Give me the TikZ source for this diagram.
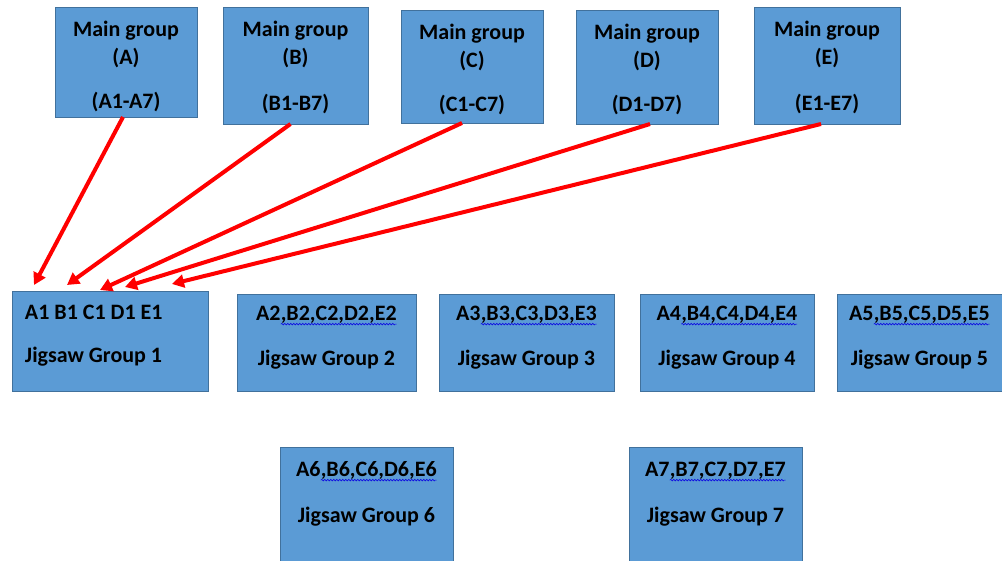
\documentclass[tikz,border=0pt]{standalone}
\usepackage{fontspec}
\setmainfont{Carlito}
\usetikzlibrary{arrows.meta,decorations.pathmorphing}
\definecolor{boxfill}{HTML}{5B9BD5}
\definecolor{boxline}{HTML}{41719C}
\definecolor{arrred}{HTML}{FF0000}
\definecolor{spell}{HTML}{1010E0}
\newcommand\spellwave[1]{\tikz[baseline=0pt,x=1pt,y=1pt]{\node[draw=none,fill=none,inner sep=0pt,outer sep=0pt,anchor=base,text=black] (sw) at (0,0) {#1};\draw[spell,line width=0.6pt,decorate,decoration={snake,amplitude=0.8pt,segment length=3pt}] ([yshift=-3.5pt]sw.base west) -- ([yshift=-3.5pt]sw.base east);}}
% content box: width, height, top gap, alignment, content
\newcommand\boxcontent[5]{\parbox[c][#2][t]{#1}{#4\fontsize{22}{28}\selectfont\bfseries\vspace*{#3}\strut #5\par}}
\tikzset{
  gbox/.style={draw=boxline, line width=1pt, fill=boxfill, inner sep=0pt, outer sep=0pt, anchor=north west},
  arr/.style={draw=arrred, line width=4pt, -{Triangle[length=12pt,width=13pt]}}
}
\begin{document}
\begin{tikzpicture}[x=1pt,y=-1pt]
\useasboundingbox (0,0) rectangle (1002,560);
\clip (0,0) rectangle (1002,560);
% main groups
\node[gbox] (A) at (55,7) {\boxcontent{142pt}{110pt}{10pt}{\centering}{Main group\\(A)\\[16pt](A1-A7)}};
\node[gbox] (B) at (223,7) {\boxcontent{145pt}{117pt}{10pt}{\centering}{Main group\\(B)\\[18pt](B1-B7)}};
\node[gbox] (C) at (401,10) {\boxcontent{142pt}{113pt}{10pt}{\centering}{Main group\\(C)\\[16pt](C1-C7)}};
\node[gbox] (D) at (576,10) {\boxcontent{142pt}{114pt}{10pt}{\centering}{Main group\\(D)\\[16pt](D1-D7)}};
\node[gbox] (E) at (754,7) {\boxcontent{146pt}{117pt}{10pt}{\centering}{Main group\\(E)\\[18pt](E1-E7)}};
% jigsaw groups
\node[gbox] (g1) at (12,291) {\boxcontent{196pt}{100pt}{9pt}{\raggedright\leftskip=13pt}{A1 B1 C1 D1 E1\\[15pt]Jigsaw Group 1}};
\node[gbox] (g2) at (237,294) {\boxcontent{179pt}{97pt}{7pt}{\centering}{A2\spellwave{,B2,C2,D2,E2}\\[17pt]Jigsaw Group 2}};
\node[gbox] (g3) at (439,294) {\boxcontent{175pt}{97pt}{7pt}{\centering}{A3\spellwave{,B3,C3,D3,E3}\\[17pt]Jigsaw Group 3}};
\node[gbox] (g4) at (640,294) {\boxcontent{174pt}{97pt}{7pt}{\centering}{A4\spellwave{,B4,C4,D4,E4}\\[17pt]Jigsaw Group 4}};
\node[gbox] (g5) at (837,294) {\boxcontent{174pt}{97pt}{7pt}{\centering\rightskip=0pt plus 1fil minus 0pt\leftskip=-9pt plus 1fil}{A5\spellwave{,B5,C5,D5,E5}\\[17pt]Jigsaw Group 5}};
\node[gbox] (g6) at (280,447) {\boxcontent{173pt}{125pt}{10pt}{\centering}{A6\spellwave{,B6,C6,D6,E6}\\[18pt]Jigsaw Group 6}};
\node[gbox] (g7) at (629,447) {\boxcontent{173pt}{125pt}{10pt}{\centering}{A7\spellwave{,B7,C7,D7,E7}\\[18pt]Jigsaw Group 7}};
% arrows
\draw[arr] ([xshift=-3pt]A.south) -- ([xshift=22pt,yshift=6pt]g1.north west);
\draw[arr] ([xshift=-5pt]B.south) -- ([xshift=55pt,yshift=6pt]g1.north west);
\draw[arr] ([xshift=-10pt]C.south) -- ([xshift=88pt,yshift=1pt]g1.north west);
\draw[arr] ([xshift=3pt]D.south) -- ([xshift=113pt,yshift=4pt]g1.north west);
\draw[arr] ([xshift=-6pt]E.south) -- ([xshift=160pt,yshift=7pt]g1.north west);
\end{tikzpicture}
\end{document}
